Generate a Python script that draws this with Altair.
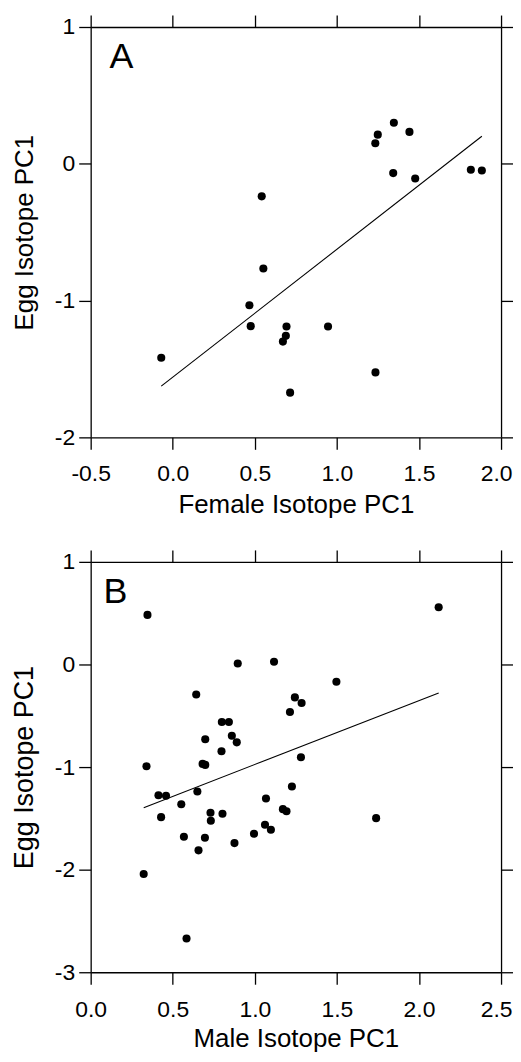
import altair as alt
import pandas as pd

# ---------------- data ----------------
female_pc1 = [1.347, 1.249, 1.234, 1.442, 1.343, 1.477, 1.816, 1.883, 0.542, 0.552,
              0.467, 0.475, 0.693, 0.689, 0.671, 0.946, -0.070, 1.235, 0.715]
egg_pc1_a = [0.300, 0.213, 0.150, 0.233, -0.068, -0.107, -0.044, -0.049, -0.238, -0.765,
             -1.034, -1.187, -1.190, -1.258, -1.300, -1.190, -1.418, -1.525, -1.673]

male_pc1 = [0.346, 2.120, 0.896, 1.117, 1.497, 0.643, 1.244, 1.285, 1.214, 0.799,
            0.842, 0.698, 0.860, 0.890, 0.797, 1.281, 0.340, 0.682, 0.698, 0.413,
            0.459, 0.650, 0.552, 0.429, 0.730, 0.732, 0.803, 1.068, 1.226, 1.171,
            1.193, 1.062, 1.098, 0.995, 0.568, 0.696, 0.876, 0.657, 1.739, 0.323,
            0.584]
egg_pc1_b = [0.483, 0.558, 0.010, 0.026, -0.168, -0.292, -0.321, -0.376, -0.463, -0.561,
             -0.561, -0.729, -0.694, -0.759, -0.846, -0.905, -0.992, -0.969, -0.979, -1.274,
             -1.280, -1.238, -1.362, -1.488, -1.446, -1.524, -1.455, -1.306, -1.190, -1.410,
             -1.430, -1.562, -1.611, -1.650, -1.679, -1.689, -1.741, -1.812, -1.498, -2.043,
             -2.671]

x_ticks_a = [-0.5, 0.0, 0.5, 1.0, 1.5, 2.0]
y_ticks_a = [-2, -1, 0, 1]
x_ticks_b = [0.0, 0.5, 1.0, 1.5, 2.0, 2.5]
y_ticks_b = [-3, -2, -1, 0, 1]

FONT = "Liberation Sans"
W = 412
H = 412

X_LABEL = "datum.value < 0 ? '-' + format(-datum.value, '.1f') : format(datum.value, '.1f')"
Y_LABEL = "datum.value < 0 ? '-' + format(-datum.value, 'd') : format(datum.value, 'd')"


def panel(xs, ys, xtitle, xdomain, ydomain, xticks, yticks, letter,
          letter_x, letter_y, ytitle_size, ytitle_pad, label_pad_x, xtitle_pad):
    df = pd.DataFrame({"x": xs, "egg": ys})
    xs_ = alt.Scale(domain=xdomain, nice=False, zero=False)
    ys_ = alt.Scale(domain=ydomain, nice=False, zero=False)

    common = dict(tickSize=12, tickWidth=1.3, tickColor="black",
                  domainColor="black", domainWidth=1.3, grid=False,
                  labelFont=FONT, labelColor="black", labelFontSize=23,
                  labelFlush=False, labelOverlap=False,
                  titleFont=FONT, titleColor="black", titleFontWeight="normal")

    last = xticks[-1]
    x_axis = alt.Axis(orient="bottom", values=xticks, labelExpr=X_LABEL, title=xtitle,
                      labelPadding=label_pad_x, titleFontSize=26,
                      labelOffset={"condition": {"test": f"datum.value == {last}", "value": -5},
                                   "value": 0},
                      titlePadding=xtitle_pad, **common)
    y_axis = alt.Axis(orient="left", values=yticks, labelExpr=Y_LABEL,
                      title="Egg Isotope PC1",
                      labelPadding=4, titleFontSize=ytitle_size,
                      titlePadding=ytitle_pad, **common)
    x_top = alt.Axis(orient="top", values=xticks, labels=False, title=None, **common)
    y_right = alt.Axis(orient="right", values=yticks, labels=False, title=None, **common)

    base = alt.Chart(df)
    points = base.mark_circle(size=66, color="black", opacity=1).encode(
        x=alt.X("x:Q", scale=xs_, axis=x_axis),
        y=alt.Y("egg:Q", scale=ys_, axis=y_axis),
    )
    line = base.transform_regression("x", "egg").mark_line(
        color="black", strokeWidth=1.1).encode(
        x=alt.X("x:Q", scale=xs_, axis=x_top),
        y=alt.Y("egg:Q", scale=ys_, axis=y_right),
    )
    label = alt.Chart(pd.DataFrame({"t": [letter]})).mark_text(
        font=FONT, fontSize=36, color="black", align="left", baseline="alphabetic"
    ).encode(x=alt.value(letter_x), y=alt.value(letter_y), text="t:N")

    return alt.layer(points, line, label).resolve_axis(
        x="independent", y="independent").properties(width=W, height=H)


pa = panel(female_pc1, egg_pc1_a, "Female Isotope PC1", [-0.5, 2.0], [-2, 1],
           x_ticks_a, y_ticks_a, "A", 19, 41, 26, 16.5, 13.5, 6)
pb = panel(male_pc1, egg_pc1_b, "Male Isotope PC1", [0.0, 2.5], [-3, 1],
           x_ticks_b, y_ticks_b, "B", 13, 41, 27, 15.5, 14, 5)

chart = alt.vconcat(pa, pb, spacing=31).properties(
    padding={"left": 3, "top": 4, "right": -1, "bottom": 0}
).configure_view(strokeWidth=0)

chart.save("out.html", embed_options={"renderer": "svg", "actions": False})
